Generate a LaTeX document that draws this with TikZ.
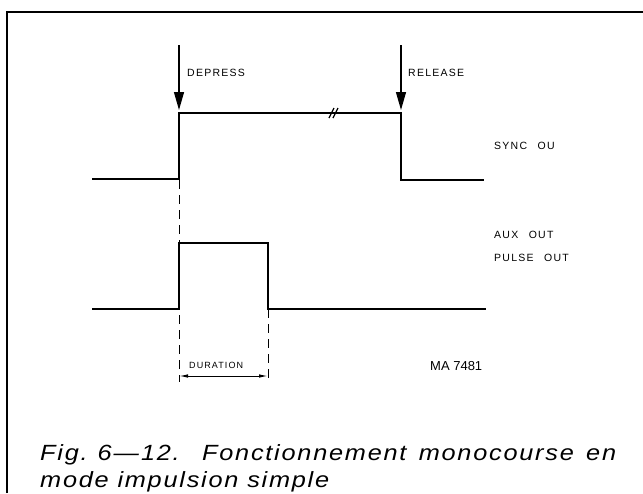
\documentclass[tikz,border=0pt]{standalone}
\usepackage{fontspec}
\setmainfont{Liberation Sans}
\newfontfamily\lblfont[LetterSpace=12]{Liberation Sans}
\newfontfamily\capfont[LetterSpace=8, FakeStretch=1.15]{Liberation Sans}
\usetikzlibrary{arrows.meta, positioning}

\begin{document}
\begin{tikzpicture}[
  x=1pt, y=-1pt,
  sig/.style={line width=2pt, line join=miter},
  guide/.style={line width=1pt, dash pattern=on 9pt off 6pt},
  push/.style={line width=1.3pt, -{Triangle[length=18pt, width=10pt]}},
  lbl/.style={font=\lblfont\fontsize{10.5}{12}\selectfont, anchor=west, inner sep=0pt},
  captext/.style={font=\capfont\itshape\fontsize{22}{26}\selectfont, anchor=base west, inner sep=0pt}
]
\useasboundingbox (0,0) rectangle (643,493);

% frame
\draw[line width=2.5pt] (7,493) -- (7,12) -- (643,12);

% push / release arrows
\coordinate (deptop) at (179,45);
\coordinate (deptip) at (179,110);
\coordinate (reltop) at (401,45);
\coordinate (reltip) at (401,110);
\draw[push] (deptop) -- (deptip);
\draw[push] (reltop) -- (reltip);
\node[lbl] (depress) at (187,73) {DEPRESS};
\node[lbl] (release) at (408,73) {RELEASE};

% dashed guides
\draw[guide] (179,180) -- (179,382);
\draw[guide] (268,309) -- (268,382);

% sync signal
\draw[sig] (92,179) -- (179,179) -- (179,113) -- (401,113) -- (401,180) -- (484,180);
\draw[line width=1.2pt] (329,118) -- (334,108);
\draw[line width=1.2pt] (333,118) -- (338,108);
\node[lbl] (sync) at (494,146) {SYNC\quad OU};

% pulse signal
\draw[sig] (92,309) -- (179,309) -- (179,243) -- (268,243) -- (268,309) -- (486,309);
\node[lbl] (aux) at (494,235) {AUX\quad OUT};
\node[lbl] (pulse) at (494,258) {PULSE\quad OUT};

% duration
\coordinate (durl) at (179,376);
\coordinate (durr) at (268,376);
\draw[line width=1pt, {Latex[length=9pt, width=3.5pt]}-{Latex[length=9pt, width=3.5pt]}] (durl) -- (durr);
\node[lbl, font=\lblfont\fontsize{9}{11}\selectfont] (dur) at (189,365) {DURATION};
\node[anchor=west, inner sep=0pt, font=\fontsize{13}{15}\selectfont] (ref) at (430,366) {MA 7481};

% caption
\node[captext] (cap1) at (40,460) {\makebox[576pt][s]{Fig.\hspace{10pt}6\hspace{2pt}—\hspace{2pt}12. Fonctionnement monocourse en}};
\node[captext] (cap2) at (40,487) {mode impulsion simple};
\end{tikzpicture}
\end{document}
